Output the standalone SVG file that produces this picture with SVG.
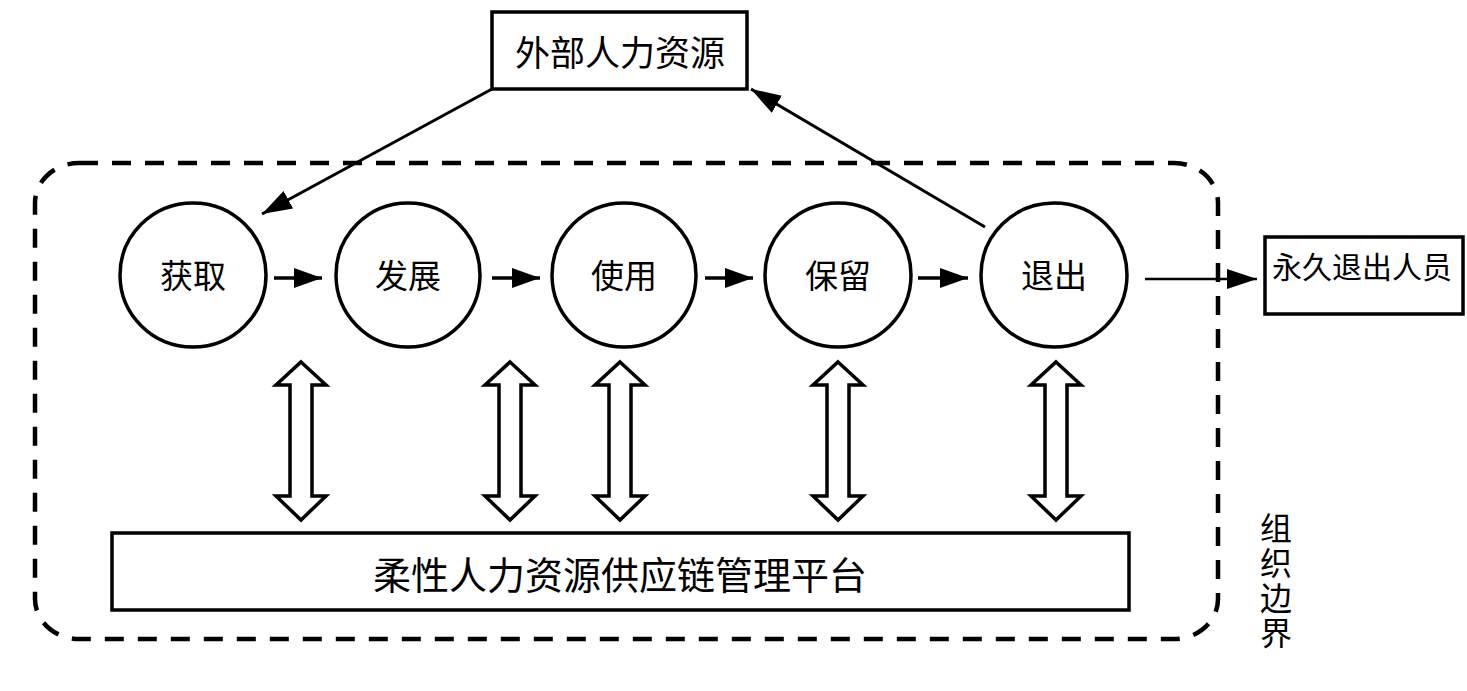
<svg xmlns="http://www.w3.org/2000/svg" width="1467" height="691" viewBox="0 0 1467 691">
<style>
text{font-family:"Noto Sans CJK SC","Noto Sans CJK JP",sans-serif;fill:#000;text-anchor:middle;dominant-baseline:central}
.box{fill:#fff;stroke:#000;stroke-width:3.5}
.node{fill:#fff;stroke:#000;stroke-width:3.5}
.dbl{fill:#fff;stroke:#000;stroke-width:3.5;stroke-linejoin:miter}
.link{stroke:#000;fill:none}
</style>
<defs>
<marker id="ah" markerUnits="userSpaceOnUse" markerWidth="30" markerHeight="22" refX="28" refY="10" orient="auto">
<path d="M0,0 L28,10 L0,20 z" fill="#000"/>
</marker>
<marker id="ah2" markerUnits="userSpaceOnUse" markerWidth="32" markerHeight="22" refX="30" refY="10" orient="auto">
<path d="M0,0 L30,10 L0,20 z" fill="#000"/>
</marker>
</defs>
<rect id="boundary" x="35" y="163" width="1183" height="476" rx="44" ry="40" fill="none" stroke="#000" stroke-width="4.5" stroke-dasharray="19 14"/>
<g id="label-boundary">
<text x="1276" y="512" font-size="32" writing-mode="vertical-rl" letter-spacing="3" style="text-anchor:start">组织边界</text>
</g>
<g id="external"><rect class="box" x="492" y="12" width="255" height="77"/><text x="620" y="50" font-size="35">外部人力资源</text></g>
<g id="permanent"><rect class="box" x="1265" y="237" width="198" height="77"/><text x="1362" y="265" font-size="30">永久退出人员</text></g>
<g id="n1"><ellipse class="node" cx="193" cy="275" rx="73" ry="72"/><text x="193" y="274" font-size="33">获取</text></g>
<g id="n2"><ellipse class="node" cx="408" cy="275" rx="72" ry="72"/><text x="408" y="274" font-size="33">发展</text></g>
<g id="n3"><ellipse class="node" cx="624" cy="275" rx="72" ry="72"/><text x="624" y="274" font-size="33">使用</text></g>
<g id="n4"><ellipse class="node" cx="838" cy="275" rx="73" ry="72"/><text x="838" y="274" font-size="33">保留</text></g>
<g id="n5"><ellipse class="node" cx="1054" cy="275" rx="73" ry="72"/><text x="1054" y="274" font-size="33">退出</text></g>
<g id="platform"><rect class="box" x="112" y="533" width="1017" height="77"/><text x="620" y="572" font-size="38">柔性人力资源供应链管理平台</text></g>
<g id="connectors">
<line class="link" x1="492" y1="89" x2="262" y2="214" stroke-width="3" marker-end="url(#ah2)"/>
<line class="link" x1="985" y1="227" x2="751" y2="89" stroke-width="3" marker-end="url(#ah2)"/>
<line class="link" x1="274" y1="278" x2="322" y2="278" stroke-width="3.5" marker-end="url(#ah)"/>
<line class="link" x1="492" y1="278" x2="540" y2="278" stroke-width="3.5" marker-end="url(#ah)"/>
<line class="link" x1="705" y1="278" x2="753" y2="278" stroke-width="3.5" marker-end="url(#ah)"/>
<line class="link" x1="918" y1="278" x2="968" y2="278" stroke-width="3.5" marker-end="url(#ah)"/>
<line class="link" x1="1145" y1="279" x2="1257" y2="279" stroke-width="2.5" marker-end="url(#ah2)"/>
<polygon class="dbl" points="301,362 326,385 312,385 312,496 326,496 301,520 276,496 290,496 290,385 276,385"/>
<polygon class="dbl" points="510,362 535,385 521,385 521,496 535,496 510,520 485,496 499,496 499,385 485,385"/>
<polygon class="dbl" points="620,362 645,385 631,385 631,496 645,496 620,520 595,496 609,496 609,385 595,385"/>
<polygon class="dbl" points="838,362 863,385 849,385 849,496 863,496 838,520 813,496 827,496 827,385 813,385"/>
<polygon class="dbl" points="1056,362 1081,385 1067,385 1067,496 1081,496 1056,520 1031,496 1045,496 1045,385 1031,385"/>
</g>
</svg>
